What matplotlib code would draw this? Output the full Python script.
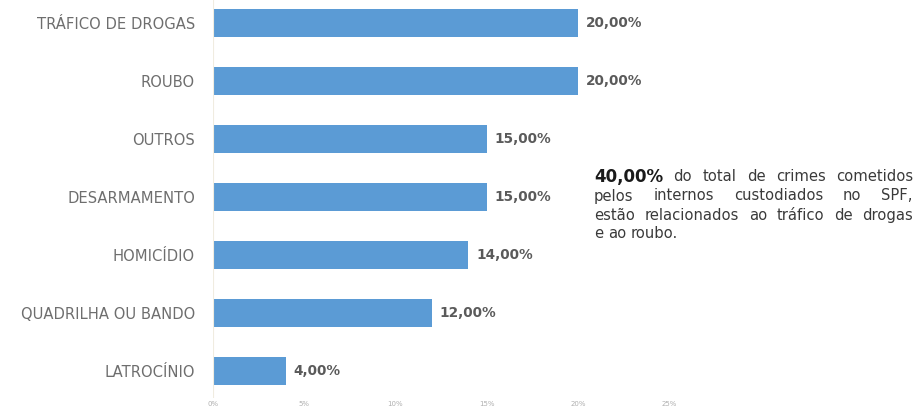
import matplotlib
matplotlib.use("Agg")
from matplotlib import pyplot as plt

categorias = ["TRÁFICO DE DROGAS", "ROUBO", "OUTROS", "DESARMAMENTO",
              "HOMICÍDIO", "QUADRILHA OU BANDO", "LATROCÍNIO"]
valores = [20, 20, 15, 15, 14, 12, 4]
ticks = [0, 5, 10, 15, 20, 25]
tick_labels = ["0%", "5%", "10%", "15%", "20%", "25%"]

plt.rcParams['font.family'] = ['DejaVu Sans']

fig = plt.figure(figsize=(9.18, 4.16), dpi=100)
ax = fig.add_axes([0.232, 0.043, 0.497, 0.957])

pos = list(range(len(categorias)))
ax.barh(pos, valores, height=0.49, color="#5B9BD5")
ax.set_ylim(6.47, -0.4)
ax.set_xlim(0, 25)
ax.set_yticks(pos)
ax.set_yticklabels(categorias, fontsize=10.6, color="#6e6e6e")
ax.set_xticks(ticks)
ax.set_xticklabels(tick_labels, fontsize=5, color="#b0b0b0")
ax.tick_params(axis="both", length=0)
ax.tick_params(axis="y", pad=13)
ax.tick_params(axis="x", pad=2)
for s in ax.spines.values():
    s.set_visible(False)
ax.axvline(0, color="#f0ece0", lw=0.8)

for p, v in zip(pos, valores):
    ax.text(v + 0.42, p, "%d,00%%" % v, va="center", ha="left",
            fontsize=9.8, fontweight="bold", color="#5a5a5a")

# texto justificado a direita
fig.canvas.draw()
renderer = fig.canvas.get_renderer()
x0, x1 = 594 / 918, 913 / 918
linhas = [
    (["40,00%", "do", "total", "de", "crimes", "cometidos"], 177, True),
    (["pelos", "internos", "custodiados", "no", "SPF,"], 196, True),
    (["estão", "relacionados", "ao", "tráfico", "de", "drogas"], 215, True),
    (["e", "ao", "roubo."], 234, False),
]
for palavras, ypx, just in linhas:
    objs = []
    for w in palavras:
        if w == "40,00%":
            t = fig.text(0, 1 - ypx / 416, w, fontsize=12, fontweight="bold",
                         color="#1a1a1a", va="center")
        else:
            t = fig.text(0, 1 - ypx / 416, w, fontsize=10.6, color="#3a3a3a",
                         va="center")
        objs.append(t)
    larg = [o.get_window_extent(renderer).width / fig.bbox.width for o in objs]
    if just:
        gap = (x1 - x0 - sum(larg)) / (len(objs) - 1)
    else:
        gap = 0.005
    x = x0
    for o, l in zip(objs, larg):
        o.set_x(x)
        x += l + gap

fig.savefig("out.png", dpi=100)
